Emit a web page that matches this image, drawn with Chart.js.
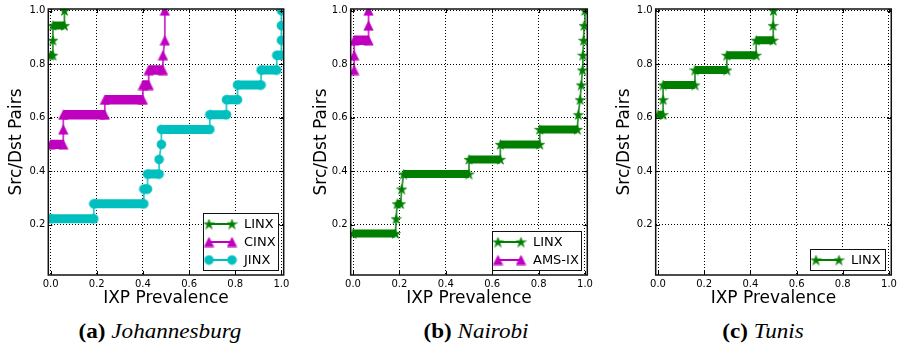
<!DOCTYPE html>
<html><head><meta charset="utf-8">
<script src="https://cdn.jsdelivr.net/npm/chart.js@4.4.1/dist/chart.umd.min.js"></script>
<style>
html,body{margin:0;padding:0;background:#fff;width:900px;height:349px;overflow:hidden;}
.panel{position:absolute;top:0;width:300px;height:310px;}
.cap{position:absolute;top:321px;width:300px;text-align:center;font-family:"Liberation Serif","Times New Roman",serif;font-size:21px;line-height:21px;color:#000;transform:scaleX(1.1);transform-origin:center;white-space:nowrap;}
.cap b{font-weight:bold}.cap i{font-style:italic}
</style></head><body>
<div class="panel" style="left:0px"><canvas id="ca" width="300" height="310"></canvas></div>
<div class="panel" style="left:300px"><canvas id="cb" width="300" height="310"></canvas></div>
<div class="panel" style="left:600px"><canvas id="cc" width="300" height="310"></canvas></div>
<div class="cap" style="left:10px"><b>(a)</b> <i>Johannesburg</i></div>
<div class="cap" style="left:326px"><b>(b)</b> <i>Nairobi</i></div>
<div class="cap" style="left:613px"><b>(c)</b> <i>Tunis</i></div>
<script>
// ---------- data ----------
const xTicks = [0.0, 0.2, 0.4, 0.6, 0.8, 1.0];
const yTicks = [0.2, 0.4, 0.6, 0.8, 1.0];

// (a) Johannesburg
const jnbLinxX = [0.0, 0.01, 0.01, 0.01, 0.06, 0.06];
const jnbLinxY = [0.833, 0.833, 0.889, 0.944, 0.944, 1.0];
const jnbCinxX = [0.0, 0.055, 0.055, 0.055, 0.235, 0.235, 0.4, 0.4, 0.425, 0.425, 0.487, 0.487, 0.495, 0.495];
const jnbCinxY = [0.5, 0.5, 0.556, 0.611, 0.611, 0.667, 0.667, 0.722, 0.722, 0.778, 0.778, 0.833, 0.889, 1.0];
const jnbJinxX = [0.0, 0.187, 0.187, 0.404, 0.404, 0.42, 0.42, 0.47, 0.47, 0.48, 0.48, 0.69, 0.69, 0.762, 0.762, 0.81, 0.81, 0.912, 0.912, 0.98, 0.98, 1.0, 1.0, 1.0, 1.0];
const jnbJinxY = [0.222, 0.222, 0.278, 0.278, 0.333, 0.333, 0.389, 0.389, 0.444, 0.5, 0.556, 0.556, 0.611, 0.611, 0.667, 0.667, 0.722, 0.722, 0.778, 0.778, 0.833, 0.833, 0.889, 0.944, 1.0];

// (b) Nairobi
const nboLinxX = [0.0, 0.183, 0.186, 0.19, 0.205, 0.21, 0.218, 0.5, 0.5, 0.635, 0.635, 0.805, 0.805, 0.967, 0.971, 0.979, 0.984, 0.989, 0.991, 0.994, 0.996, 1.0];
const nboLinxY = [0.167, 0.167, 0.222, 0.278, 0.278, 0.333, 0.389, 0.389, 0.444, 0.444, 0.5, 0.5, 0.556, 0.556, 0.611, 0.667, 0.722, 0.778, 0.833, 0.889, 0.944, 1.0];
const nboAmsX = [0.005, 0.005, 0.005, 0.067, 0.067, 0.067];
const nboAmsY = [0.778, 0.833, 0.889, 0.889, 0.944, 1.0];

// (c) Tunis
const tunLinxX = [0.0, 0.022, 0.022, 0.022, 0.16, 0.16, 0.298, 0.298, 0.425, 0.425, 0.498, 0.498, 0.5];
const tunLinxY = [0.611, 0.611, 0.667, 0.722, 0.722, 0.778, 0.778, 0.833, 0.833, 0.889, 0.889, 0.944, 1.0];

// ---------- styles ----------
const GREEN = '#007f00', MAG = '#bf00bf', CYAN = '#00bfbf';
const LIGHT = {[GREEN]: 'rgba(0,127,0,0.8)', [MAG]: 'rgba(191,0,191,0.8)', [CYAN]: 'rgba(0,191,191,0.8)'};
Chart.defaults.font.family = '"DejaVu Sans", sans-serif';
Chart.defaults.color = '#000';

function makeMarker(kind, color) {
  const c = document.createElement('canvas');
  c.width = 11; c.height = 11;
  const g = c.getContext('2d');
  g.fillStyle = color; g.strokeStyle = color; g.lineWidth = 0.6;
  g.beginPath();
  if (kind === 'star') {
    const R = 5.3, r = R * 0.382, cx = 5.5, cy = 5.5 + 0.0955 * R;
    for (let i = 0; i < 10; i++) {
      const ang = -Math.PI / 2 + i * Math.PI / 5;
      const rad = i % 2 === 0 ? R : r;
      const px = cx + rad * Math.cos(ang), py = cy + rad * Math.sin(ang);
      if (i === 0) g.moveTo(px, py); else g.lineTo(px, py);
    }
    g.closePath();
  } else if (kind === 'tri') {
    const h = 4.7;
    g.moveTo(5.5, 5.5 - h); g.lineTo(5.5 - h, 5.5 + h); g.lineTo(5.5 + h, 5.5 + h); g.closePath();
  } else {
    g.arc(5.5, 5.5, 4.5, 0, Math.PI * 2);
  }
  g.fill(); g.stroke();
  return c;
}
const starG = makeMarker('star', GREEN);
const triM = makeMarker('tri', MAG);
const circC = makeMarker('circ', CYAN);

function ds(label, xs, ys, color, marker, band) {
  const flat = c => c.p0.parsed.y === c.p1.parsed.y && c.p0.parsed.x !== c.p1.parsed.x;
  return {
    label, data: xs.map((x, i) => ({x, y: ys[i]})),
    borderColor: color, backgroundColor: color, borderWidth: 1.8,
    pointStyle: marker, pointRadius: 5, pointHoverRadius: 5, pointBorderWidth: 0,
    tension: 0, fill: false, clip: 0, marker,
    segment: {
      borderWidth: c => (flat(c) ? band : 1.8),
      borderColor: c => (flat(c) ? color : LIGHT[color])
    }
  };
}

const framePlugin = {
  id: 'frame',
  afterDatasetsDraw(chart, args, opts) {
    const {ctx, chartArea: a} = chart;
    const items = chart.data.datasets;
    const n = items.length, rowH = 18, padV = 10.5;
    const w = opts.legendWidth, h = 2 * padV + (n - 1) * rowH;
    const bx = Math.round(a.right - 6 - w), by = Math.round(a.bottom - 5 - h);
    ctx.save();
    ctx.fillStyle = '#fff'; ctx.fillRect(bx, by, w, h);
    ctx.strokeStyle = '#111'; ctx.lineWidth = 1;
    ctx.strokeRect(bx + 0.5, by + 0.5, w, h);
    ctx.font = '13px "DejaVu Sans", sans-serif';
    ctx.textBaseline = 'middle'; ctx.textAlign = 'left';
    items.forEach((d, i) => {
      const yy = by + padV + i * rowH + 0.5;
      ctx.strokeStyle = d.borderColor; ctx.lineWidth = 2;
      ctx.beginPath(); ctx.moveTo(bx + 6, yy); ctx.lineTo(bx + 29, yy); ctx.stroke();
      const m = d.marker;
      ctx.drawImage(m, bx + 6 - m.width / 2, yy - m.height / 2);
      ctx.drawImage(m, bx + 29 - m.width / 2, yy - m.height / 2);
      ctx.fillStyle = '#000';
      ctx.fillText(d.label, bx + 41, yy + 0.5);
    });
    ctx.restore();
  },
  afterDraw(chart) {
    const {ctx, chartArea: a, scales: {x, y}} = chart;
    ctx.save();
    ctx.strokeStyle = '#000'; ctx.lineWidth = 1;
    ctx.beginPath();
    xTicks.forEach(v => {
      const px = Math.round(x.getPixelForValue(v)) + 0.5;
      ctx.moveTo(px, a.bottom); ctx.lineTo(px, a.bottom - 4);
      ctx.moveTo(px, a.top); ctx.lineTo(px, a.top + 4);
    });
    yTicks.forEach(v => {
      const py = Math.round(y.getPixelForValue(v)) + 0.5;
      ctx.moveTo(a.left, py); ctx.lineTo(a.left + 4, py);
      ctx.moveTo(a.right, py); ctx.lineTo(a.right - 4, py);
    });
    ctx.stroke();
    ctx.lineWidth = 1.5; ctx.strokeStyle = '#111';
    ctx.strokeRect(a.left, a.top, a.width, a.height);
    ctx.restore();
  }
};

function makeChart(id, datasets, yW, rightPad, yTitlePad, legendWidth) {
  return new Chart(document.getElementById(id), {
    type: 'line',
    data: {datasets},
    options: {
      responsive: false, animation: false, events: [],
      devicePixelRatio: 1,
      layout: {padding: {top: 5.7, right: rightPad, left: 0, bottom: 0}},
      plugins: {legend: {display: false}, tooltip: {enabled: false}, frame: {legendWidth}},
      scales: {
        x: {
          type: 'linear', min: -0.01, max: 1.01,
          afterBuildTicks: s => { s.ticks = xTicks.map(v => ({value: v})); },
          afterFit: s => { s.height = 35; },
          ticks: {padding: 3, font: {size: 10}, color: '#000', maxRotation: 0, autoSkip: false, callback: v => Number(v).toFixed(1)},
          grid: {color: '#000', lineWidth: 1, drawTicks: false},
          border: {display: false, dash: [1, 2]},
          title: {display: true, text: 'IXP Prevalence', font: {size: 17}, color: '#000', padding: {top: 0, bottom: 1}}
        },
        y: {
          type: 'linear', min: 0.012, max: 1.006,
          afterBuildTicks: s => { s.ticks = yTicks.map(v => ({value: v})); },
          afterFit: s => { s.width = yW; },
          ticks: {padding: 3, font: {size: 10}, color: '#000', autoSkip: false, callback: v => Number(v).toFixed(1)},
          grid: {color: '#000', lineWidth: 1, drawTicks: false},
          border: {display: false, dash: [1, 2]},
          title: {display: true, text: 'Src/Dst Pairs', font: {size: 17}, color: '#000', padding: {top: yTitlePad, bottom: 0}}
        }
      }
    },
    plugins: [framePlugin]
  });
}

makeChart('ca', [
  ds('LINX', jnbLinxX, jnbLinxY, GREEN, starG, 8),
  ds('CINX', jnbCinxX, jnbCinxY, MAG, triM, 9.4),
  ds('JINX', jnbJinxX, jnbJinxY, CYAN, circC, 9)
], 48.3, 16.3, 6.3, 75);

makeChart('cb', [
  ds('LINX', nboLinxX, nboLinxY, GREEN, starG, 8),
  ds('AMS-IX', nboAmsX, nboAmsY, MAG, triM, 9.4)
], 50.7, 12.7, 11.3, 89);

makeChart('cc', [
  ds('LINX', tunLinxX, tunLinxY, GREEN, starG, 8)
], 55.7, 8, 14.6, 75);
</script>
</body></html>
